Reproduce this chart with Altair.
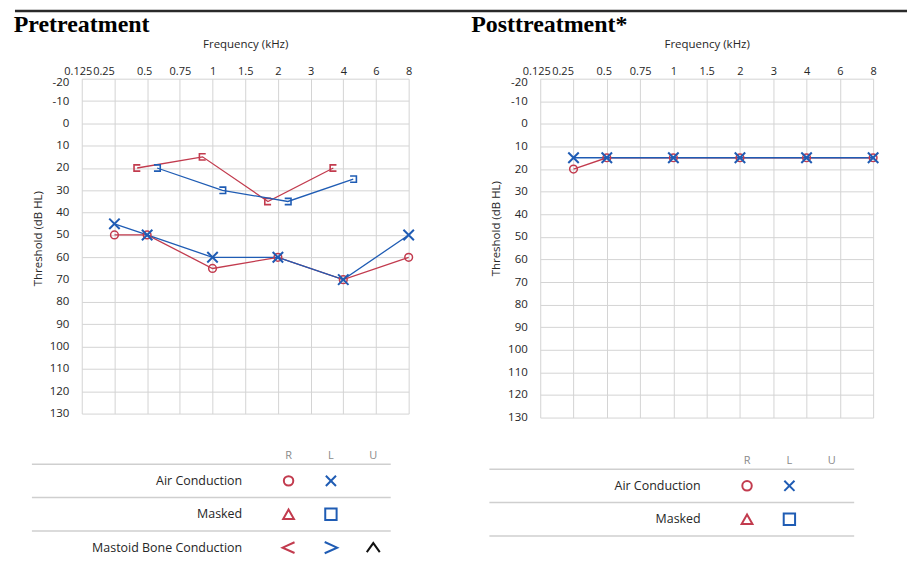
import altair as alt
import pandas as pd

# ---------------- data ----------------
freq_labels = ["0.125", "0.25", "0.5", "0.75", "1", "1.5", "2", "3", "4", "6", "8"]
db_ticks = list(range(-20, 131, 10))

pre_air_freq = ["0.25", "0.5", "1", "2", "4", "8"]
pre_r_air = [50, 50, 65, 60, 70, 60]
pre_l_air = [45, 50, 60, 60, 70, 50]
pre_bone_freq = ["0.5", "1", "2", "4"]
pre_r_bone = [20, 15, 35, 20]
pre_l_bone = [20, 30, 35, 25]

post_air_freq = ["0.25", "0.5", "1", "2", "4", "8"]
post_r_air = [20, 15, 15, 15, 15, 15]
post_l_air = [15, 15, 15, 15, 15, 15]

legend_cols = ["R", "L", "U"]
pre_legend_rows = ["Air Conduction", "Masked", "Mastoid Bone Conduction"]
pre_legend_syms = [
    ("Air Conduction", "R", "circle"), ("Air Conduction", "L", "x"),
    ("Masked", "R", "triangle"), ("Masked", "L", "square"),
    ("Mastoid Bone Conduction", "R", "lt"), ("Mastoid Bone Conduction", "L", "gt"),
    ("Mastoid Bone Conduction", "U", "caret"),
]
post_legend_rows = ["Air Conduction", "Masked"]
post_legend_syms = [
    ("Air Conduction", "R", "circle"), ("Air Conduction", "L", "x"),
    ("Masked", "R", "triangle"), ("Masked", "L", "square"),
]

# ---------------- style ----------------
RED = "#c23b4e"
BLUE = "#1f5cb4"
GRID = "#d4d4d4"
TXT = "#262626"
FONT = "Open Sans"
X_PATH = "M-1,-1L1,1M-1,1L1,-1"
BR_R = "M1,-1L-1,-1L-1,1L1,1"
BR_L = "M-1,-1L1,-1L1,1L-1,1"
sym_kinds = ["circle", "x", "triangle", "square", "lt", "gt", "caret"]
sym_paths = ["circle", X_PATH, "triangle-up", "square",
             "M1,-0.9L-1,0L1,0.9", "M-1,-0.9L1,0L-1,0.9", "M-1,0.7L0,-0.7L1,0.7"]
sym_sizes = [90, 170, 70, 70, 200, 200, 230]

x_label_shift = {"condition": [
    {"test": "datum.value === '0.125'", "value": -4},
    {"test": "datum.value === '0.25'", "value": -11},
    {"test": "datum.value === '0.5'", "value": -3},
], "value": 0}
y_label_shift = {"condition": {"test": "datum.value === -20", "value": 4}, "value": 0}


def air_frame(freqs, r_vals, l_vals):
    n = len(freqs)
    return pd.DataFrame({
        "freq": list(freqs) * 2,
        "db": list(r_vals) + list(l_vals),
        "ear": ["R"] * n + ["L"] * n,
        "i": list(range(n)) * 2,
    })


def panel(df_air, df_bone, w, h, title_y):
    xenc = alt.X("freq:O",
                 scale=alt.Scale(type="point", domain=freq_labels, padding=0),
                 axis=alt.Axis(orient="top", title="Frequency (kHz)", labelAngle=0,
                               ticks=False, domain=False, grid=True, gridColor=GRID,
                               labelOverlap=False, labelPadding=2, titlePadding=16,
                               labelFontSize=11, titleFontSize=11.5,
                               titleFontWeight="normal", labelColor=TXT, titleColor=TXT,
                               labelOffset=x_label_shift))
    yenc = alt.Y("db:Q",
                 scale=alt.Scale(domain=[-20, 130], reverse=True, nice=False, zero=False),
                 axis=alt.Axis(values=db_ticks, title="Threshold (dB HL)", ticks=False,
                               domain=False, grid=True, gridColor=GRID, labelOverlap=False,
                               labelExpr="datum.value + ''",
                               labelPadding=13, titlePadding=6, labelFontSize=11.5,
                               titleFontSize=11.5, titleFontWeight="normal", titleY=title_y,
                               labelColor=TXT, titleColor=TXT, labelOffset=y_label_shift))
    layers = []
    if df_bone is not None:
        bb = alt.Chart(df_bone)
        for ear, color, off, path in [("R", RED, -10, BR_R), ("L", BLUE, 10, BR_L)]:
            sub = bb.transform_filter(f"datum.ear === '{ear}'")
            layers.append(sub.mark_line(color=color, strokeWidth=1.3, xOffset=off)
                          .encode(x=xenc, y=yenc, order="i:Q"))
            layers.append(sub.mark_point(shape=path, filled=False, color=color, size=40,
                                         strokeWidth=1.6, opacity=1, xOffset=off)
                          .encode(x=xenc, y=yenc))
    ab = alt.Chart(df_air)
    for ear, color in [("R", RED), ("L", BLUE)]:
        layers.append(ab.transform_filter(f"datum.ear === '{ear}'")
                      .mark_line(color=color, strokeWidth=1.3)
                      .encode(x=xenc, y=yenc, order="i:Q"))
    layers.append(ab.transform_filter("datum.ear === 'R'")
                  .mark_point(shape="circle", filled=False, color=RED, size=60,
                              strokeWidth=1.5, opacity=1)
                  .encode(x=xenc, y=yenc))
    layers.append(ab.transform_filter("datum.ear === 'L'")
                  .mark_point(shape=X_PATH, filled=False, color=BLUE, size=110,
                              strokeWidth=2, opacity=1)
                  .encode(x=xenc, y=yenc))
    return alt.layer(*layers).properties(width=w, height=h)


def legend(rows, syms, w, rule_left, ymax):
    px0, step = 165.0, 42.5
    xs = alt.Scale(domain=[-px0 / step, (w - px0) / step], nice=False, zero=False)
    ys = alt.Scale(domain=[-1, ymax], reverse=True, nice=False, zero=False)
    h = 33.5 * (ymax + 1)
    hdr = pd.DataFrame({"col": legend_cols, "k": [i + 1 for i in range(len(legend_cols))],
                        "r": [-0.75] * len(legend_cols)})
    lines = pd.DataFrame({"r": [i - 0.5 for i in range(len(rows) + 1)]})
    labs = pd.DataFrame({"row": rows, "k": [0] * len(rows), "r": list(range(len(rows)))})
    sd = pd.DataFrame({
        "row": [s[0] for s in syms], "col": [s[1] for s in syms], "kind": [s[2] for s in syms],
        "k": [legend_cols.index(s[1]) + 1 for s in syms],
        "r": [rows.index(s[0]) for s in syms],
    })
    l_rules = alt.Chart(lines).mark_rule(color="#cfcfcf", strokeWidth=1.5).encode(
        x=alt.value(rule_left), x2=alt.value(w), y=alt.Y("r:Q", scale=ys, axis=None))
    l_hdr = alt.Chart(hdr).mark_text(fontSize=11, color="#8a8a8a", font=FONT).encode(
        x=alt.X("k:Q", scale=xs, axis=None), y=alt.Y("r:Q", scale=ys, axis=None), text="col:N")
    l_lab = alt.Chart(labs).mark_text(fontSize=12.5, color=TXT, align="right", dx=-4, font=FONT).encode(
        x=alt.X("k:Q", scale=xs, axis=None), y=alt.Y("r:Q", scale=ys, axis=None), text="row:N")
    l_sym = alt.Chart(sd).mark_point(filled=False, strokeWidth=2, opacity=1).encode(
        x=alt.X("k:Q", scale=xs, axis=None), y=alt.Y("r:Q", scale=ys, axis=None),
        shape=alt.Shape("kind:N", scale=alt.Scale(domain=sym_kinds, range=sym_paths), legend=None),
        size=alt.Size("kind:N", scale=alt.Scale(domain=sym_kinds, range=sym_sizes), legend=None),
        color=alt.Color("col:N", scale=alt.Scale(domain=legend_cols, range=[RED, BLUE, "#111111"]),
                        legend=None))
    return alt.layer(l_rules, l_hdr, l_lab, l_sym).properties(width=w, height=h)


def col_title(text):
    return alt.TitleParams(text=text, anchor="start", dx=-17, font="Liberation Serif",
                           fontSize=24, fontWeight="bold", color="#000000", offset=1)


pre_plot = panel(air_frame(pre_air_freq, pre_r_air, pre_l_air),
                 air_frame(pre_bone_freq, pre_r_bone, pre_l_bone), 328, 336, 160)
post_plot = panel(air_frame(post_air_freq, post_r_air, post_l_air), None, 334, 340, 150)

left_col = alt.vconcat(pre_plot, legend(pre_legend_rows, pre_legend_syms, 310, -50, 2.1),
                       spacing=27).properties(title=col_title("Pretreatment"))
right_col = alt.vconcat(post_plot, legend(post_legend_rows, post_legend_syms, 315, -51, 1.6),
                        spacing=28).properties(title=col_title("Posttreatment*"))

top_line = alt.Chart(pd.DataFrame({"a": [0]})).mark_rule(color="#2a2a2a", strokeWidth=2.5).encode(
    x=alt.value(-67), x2=alt.value(828), y=alt.value(1)).properties(width=700, height=2)

chart = alt.vconcat(top_line, alt.hconcat(left_col, right_col, spacing=52), spacing=0).properties(
    padding={"left": 5, "top": 0, "right": 0, "bottom": 0}
).configure(font=FONT, view=alt.ViewConfig(stroke="transparent"))

chart.save("out.html", embed_options={"renderer": "svg", "actions": False})
